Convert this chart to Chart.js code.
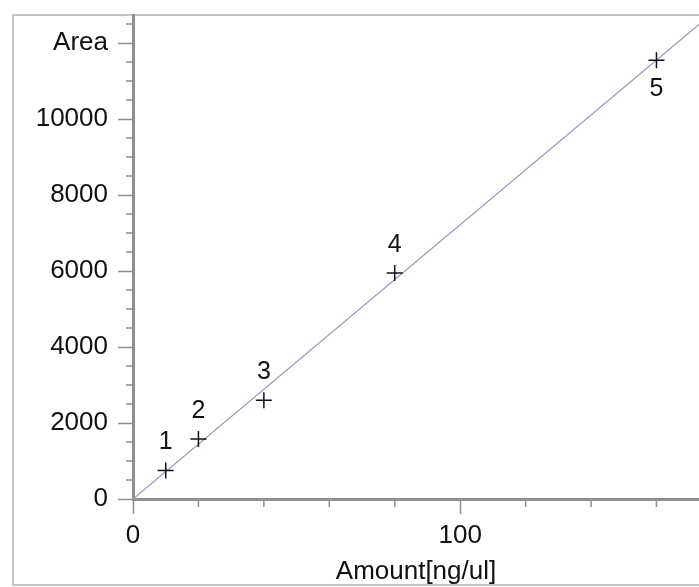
<!DOCTYPE html>
<html>
<head>
<meta charset="utf-8">
<script src="https://cdn.jsdelivr.net/npm/chart.js@4"></script>
<style>
  html, body { margin: 0; padding: 0; background: #fff; }
  #wrap { position: relative; width: 699px; height: 587px; }
</style>
</head>
<body>
<div id="wrap"><canvas id="c" width="699" height="587"></canvas></div>
<script>
// ---- data ----
const amounts = [10, 20, 40, 80, 160];
const areas = [750, 1580, 2600, 5950, 11550];
const pointLabels = ["1", "2", "3", "4", "5"];
const labelBelow = [false, false, false, false, true];
const fitX = [0, 173];
const fitY = [0, 12490];
const xMajorTicks = [0, 100];
const xTickLabels = ["0", "100"];
const xMinorTicks = [20, 40, 60, 80, 120, 140, 160];
const yMajorTicks = [0, 2000, 4000, 6000, 8000, 10000, 12000];
const yTickLabels = ["0", "2000", "4000", "6000", "8000", "10000", "Area"];
const yMinorTicks = [500,1000,1500,2500,3000,3500,4500,5000,5500,6500,7000,7500,8500,9000,9500,10500,11000,11500,12500];
const xTitle = "Amount[ng/ul]";

const FONT = "'Liberation Sans', Arial, sans-serif";
const AXIS_COLOR = '#8f8f8f';

const framePlugin = {
  id: 'frame',
  beforeDraw(chart) {
    const ctx = chart.ctx;
    ctx.save();
    ctx.strokeStyle = '#c4c4c4';
    ctx.lineWidth = 2;
    ctx.strokeRect(13, 15, 720, 570);
    ctx.restore();
  }
};

const minorTicksPlugin = {
  id: 'minorTicks',
  afterDraw(chart) {
    const ctx = chart.ctx;
    const xs = chart.scales.x, ys = chart.scales.y;
    ctx.save();
    ctx.strokeStyle = AXIS_COLOR;
    ctx.lineWidth = 1.5;
    ctx.beginPath();
    yMinorTicks.forEach(v => {
      const py = ys.getPixelForValue(v);
      ctx.moveTo(xs.left - 7, py);
      ctx.lineTo(xs.left, py);
    });
    xMinorTicks.forEach(v => {
      const px = xs.getPixelForValue(v);
      ctx.moveTo(px, ys.bottom);
      ctx.lineTo(px, ys.bottom + 8);
    });
    ctx.stroke();
    ctx.restore();
  }
};

const pointLabelPlugin = {
  id: 'pointLabels',
  afterDatasetsDraw(chart) {
    const ctx = chart.ctx;
    const meta = chart.getDatasetMeta(1);
    ctx.save();
    ctx.fillStyle = '#111';
    ctx.font = "25px " + FONT;
    ctx.textAlign = 'center';
    ctx.textBaseline = 'middle';
    meta.data.forEach((el, i) => {
      const dy = labelBelow[i] ? 29 : -28;
      ctx.fillText(pointLabels[i], el.x, el.y + dy);
    });
    ctx.restore();
  }
};

new Chart(document.getElementById('c'), {
  type: 'scatter',
  data: {
    datasets: [
      {
        type: 'line',
        data: fitX.map((x, i) => ({ x: x, y: fitY[i] })),
        borderColor: '#9494cc',
        borderWidth: 1.2,
        pointRadius: 0,
        fill: false,
        order: 2
      },
      {
        data: amounts.map((x, i) => ({ x: x, y: areas[i] })),
        pointStyle: 'cross',
        pointRadius: 8,
        borderColor: '#111',
        backgroundColor: '#111',
        borderWidth: 1.5,
        order: 1
      }
    ]
  },
  options: {
    responsive: false,
    animation: false,
    devicePixelRatio: 1,
    layout: { autoPadding: false, padding: { top: 15, left: 0, right: 0, bottom: 0 } },
    plugins: { legend: { display: false }, tooltip: { enabled: false } },
    scales: {
      x: {
        type: 'linear',
        min: 0,
        max: 173,
        afterFit(scale) { scale.height = 88; scale.paddingLeft = 0; scale.paddingRight = 0; },
        afterBuildTicks(scale) { scale.ticks = xMajorTicks.map(v => ({ value: v })); },
        ticks: {
          autoSkip: false,
          maxRotation: 0,
          padding: 6,
          color: '#111',
          font: { family: FONT, size: 26 },
          callback: (v) => { const i = xMajorTicks.indexOf(v); return i >= 0 ? xTickLabels[i] : ''; }
        },
        grid: { drawOnChartArea: false, drawTicks: true, tickLength: 15, tickColor: AXIS_COLOR, tickWidth: 1.5 },
        border: { display: true, color: AXIS_COLOR, width: 3 },
        title: { display: true, text: xTitle, color: '#111', font: { family: FONT, size: 26 }, padding: { top: 0, bottom: 0 } }
      },
      y: {
        type: 'linear',
        min: 0,
        max: 12740,
        afterFit(scale) { scale.width = 133; scale.paddingTop = 0; scale.paddingBottom = 0; },
        afterBuildTicks(scale) { scale.ticks = yMajorTicks.map(v => ({ value: v })); },
        ticks: {
          autoSkip: false,
          padding: 10,
          color: '#111',
          font: { family: FONT, size: 26 },
          callback: (v) => { const i = yMajorTicks.indexOf(v); return i >= 0 ? yTickLabels[i] : ''; }
        },
        grid: { drawOnChartArea: false, drawTicks: true, tickLength: 15, tickColor: AXIS_COLOR, tickWidth: 1.5 },
        border: { display: true, color: AXIS_COLOR, width: 3 }
      }
    }
  },
  plugins: [framePlugin, minorTicksPlugin, pointLabelPlugin]
});
</script>
</body>
</html>
